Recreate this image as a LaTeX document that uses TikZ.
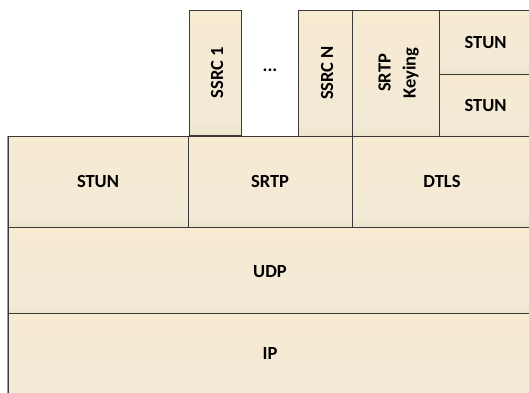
\documentclass[tikz,border=0pt]{standalone}
\usepackage{fontspec}
\setmainfont{Carlito}
\definecolor{shtop}{HTML}{FCEBCF}
\definecolor{shmid}{HTML}{F2EAD6}
\definecolor{shbot}{HTML}{CDBD97}
\definecolor{edge}{HTML}{3A3A3A}
\pgfdeclareverticalshading{boxshade}{100bp}{color(0bp)=(shbot); color(8bp)=(shbot!70!shmid); color(30bp)=(shmid); color(65bp)=(shmid!60!shtop); color(100bp)=(shtop)}
\tikzset{
  layer/.style={draw=edge, line width=0.8pt, shading=boxshade, inner sep=0pt},
  lbl/.style={font=\fontsize{18.5}{25}\selectfont\bfseries, text=black, inner sep=0pt},
  vlbl/.style={lbl, rotate=90, align=center}
}
\begin{document}
\begin{tikzpicture}[x=1pt,y=-1pt]
\useasboundingbox (0,0) rectangle (529,392);
\clip (0,0) rectangle (529,392);
% top row
\node[layer, minimum width=52pt, minimum height=125pt] (ssrc1) at (215,72.5) {};
\node[layer, minimum width=54pt, minimum height=126pt] (ssrcn) at (325,73) {};
\node[layer, minimum width=87pt, minimum height=126pt] (keying) at (395.5,73) {};
\node[layer, minimum width=93pt, minimum height=64pt] (stuna) at (485.5,42) {};
\node[layer, minimum width=93pt, minimum height=62pt] (stunb) at (485.5,105) {};
% middle row
\node[layer, minimum width=180pt, minimum height=91pt] (stun) at (98,181.5) {};
\node[layer, minimum width=164pt, minimum height=91pt] (srtp) at (270,181.5) {};
\node[layer, minimum width=180pt, minimum height=91pt] (dtls) at (442,181.5) {};
% lower rows
\node[layer, minimum width=524pt, minimum height=86pt] (udp) at (270,270) {};
\node[layer, minimum width=524pt, minimum height=87pt] (ip) at (270,356.5) {};
% left outer edge
\draw[draw=gray!80, line width=1.2pt] (stun.north west) -- (ip.south west);
% labels
\node[vlbl] (t1) at (ssrc1.center) [yshift=-2pt] {SSRC 1};
\node[lbl] (dots) at (270,70) {\textbf{...}};
\node[vlbl] (tn) at (ssrcn.center) [yshift=-2pt] {SSRC N};
\node[vlbl] (tk) at (keying.center) [yshift=-3pt] {SRTP\\Keying};
\node[lbl] (ta) at (stuna.center) {STUN};
\node[lbl] (tb) at (stunb.center) {STUN};
\node[lbl] (t2) at (stun.center) {STUN};
\node[lbl] (t3) at (srtp.center) {SRTP};
\node[lbl] (t4) at (dtls.center) {DTLS};
\node[lbl] (t5) at (udp.center) [yshift=-2pt] {UDP};
\node[lbl] (t6) at (ip.center) [yshift=3pt] {IP};
\end{tikzpicture}
\end{document}
